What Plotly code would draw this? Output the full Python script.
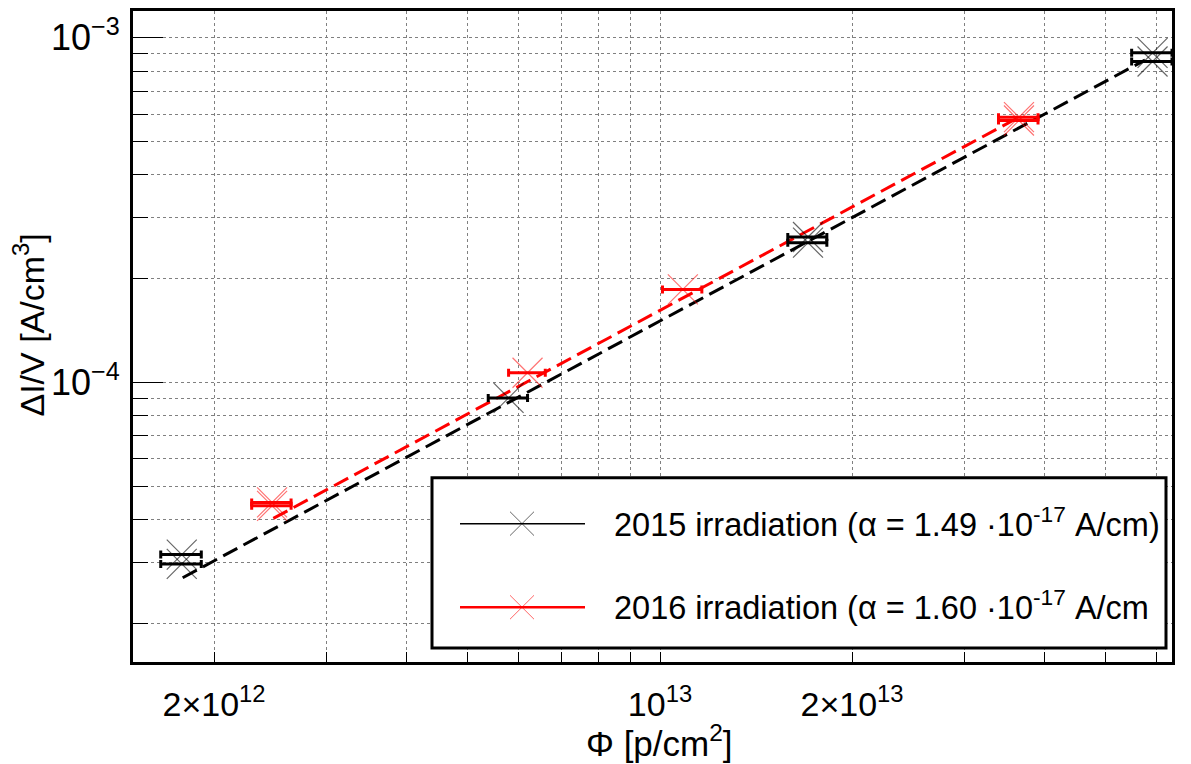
import plotly.graph_objects as go

# ---------------- data ----------------
# 2015 irradiation: two measurement sets
x15_a = [1.78e12, 5.79e12, 1.706e13, 5.916e13]
y15_a = [3.162e-5, 9.01e-5, 2.642e-4, 9.05e-4]
ex15_a = [0.13e12, 0.41e12, 0.12e13, 0.43e13]
x15_b = [1.78e12, 1.706e13, 5.916e13]
y15_b = [2.97e-5, 2.543e-4, 8.54e-4]
ex15_b = [0.13e12, 0.12e13, 0.43e13]

# 2016 irradiation: two measurement sets
x16_a = [2.466e12, 6.20e12, 1.086e13, 3.653e13]
y16_a = [4.48e-5, 1.066e-4, 1.861e-4, 5.885e-4]
ex16_a = [0.175e12, 0.41e12, 0.077e13, 0.26e13]
x16_b = [2.466e12, 3.653e13]
y16_b = [4.38e-5, 5.754e-4]
ex16_b = [0.175e12, 0.26e13]

# linear fits (end points)
fit15_x = [1.786e12, 5.757e13]
fit15_y = [2.708e-5, 8.62e-4]
fit16_x = [2.477e12, 3.653e13]
fit16_y = [4.026e-5, 5.885e-4]

x_major = [2e12, 1e13, 2e13]
x_major_text = ["2×10<sup>12</sup>", "10<sup>13</sup>", "2×10<sup>13</sup>"]
x_minor = [3e12, 4e12, 5e12, 6e12, 7e12, 8e12, 9e12, 3e13, 4e13, 5e13, 6e13]
y_major = [1e-4, 1e-3]
y_major_text = ["10<sup>−4</sup>", "10<sup>−3</sup>"]
y_minor = [2e-5, 3e-5, 4e-5, 5e-5, 6e-5, 7e-5, 8e-5, 9e-5,
           2e-4, 3e-4, 4e-4, 5e-4, 6e-4, 7e-4, 8e-4, 9e-4]

legend_labels = ["2015 irradiation (α = 1.49 ·10<sup>-17</sup> A/cm)",
                 "2016 irradiation (α = 1.60 ·10<sup>-17</sup> A/cm"]

FONT = "Liberation Sans, Arial, sans-serif"

# ---------------- figure ----------------
W, H = 1191, 764
L, R, T, B = 133, 1172, 8, 662

fig = go.Figure()

# fit lines
fig.add_trace(go.Scatter(x=fit15_x, y=fit15_y, mode="lines",
                         line=dict(color="black", width=3, dash="16px,7px"),
                         showlegend=False, hoverinfo="skip"))
fig.add_trace(go.Scatter(x=fit16_x, y=fit16_y, mode="lines",
                         line=dict(color="red", width=3, dash="16px,7px"),
                         showlegend=False, hoverinfo="skip"))

def pts(x, y, ex, color, mcolor):
    fig.add_trace(go.Scatter(
        x=x, y=y, mode="markers",
        marker=dict(symbol="x-thin", size=30, color=mcolor,
                    line=dict(color=mcolor, width=1.2)),
        error_x=dict(type="data", array=ex, color=color, thickness=3, width=4),
        showlegend=False))

pts(x15_a, y15_a, ex15_a, "black", "rgba(0,0,0,0.6)")
pts(x15_b, y15_b, ex15_b, "black", "rgba(0,0,0,0.6)")
pts(x16_a, y16_a, ex16_a, "red", "rgba(255,0,0,0.55)")
pts(x16_b, y16_b, ex16_b, "red", "rgba(255,0,0,0.55)")

grid = dict(showgrid=True, gridcolor="#808080", gridwidth=1, griddash="dot")

fig.update_xaxes(type="log", range=[12.174, 13.8025],
                 tickmode="array", tickvals=x_major, ticktext=x_major_text,
                 ticks="inside", ticklen=10, tickwidth=1, tickcolor="black",
                 ticklabelstandoff=10,
                 showline=True, linecolor="black", linewidth=3, mirror=True,
                 tickfont=dict(family=FONT, size=34, color="black"),
                 minor=dict(tickmode="array", tickvals=x_minor, ticks="inside",
                            ticklen=10, tickwidth=1, tickcolor="black", **grid),
                 zeroline=False, **grid)
fig.update_yaxes(type="log", range=[-4.812, -2.922],
                 tickmode="array", tickvals=y_major, ticktext=y_major_text,
                 ticks="inside", ticklen=30, tickwidth=1, tickcolor="black",
                 ticklabelstandoff=3,
                 showline=True, linecolor="black", linewidth=3, mirror=True,
                 tickfont=dict(family=FONT, size=36, color="black"),
                 minor=dict(tickmode="array", tickvals=y_minor, ticks="inside",
                            ticklen=15, tickwidth=1, tickcolor="black", **grid),
                 zeroline=False, **grid)

def px(xp):
    return (xp - L) / (R - L)

def py(yp):
    return (B - yp) / (B - T)

shapes = []
annotations = []
# legend box
shapes.append(dict(type="rect", xref="paper", yref="paper",
                   x0=px(432), x1=px(1166), y0=py(648), y1=py(477),
                   line=dict(color="black", width=3), fillcolor="white",
                   layer="above"))
leg = [(523, "black", "rgba(0,0,0,0.6)", 1.5), (607, "red", "rgba(255,0,0,0.6)", 2.5)]
for (yc, col, mcol, lw), lab in zip(leg, legend_labels):
    shapes.append(dict(type="line", xref="paper", yref="paper",
                       x0=px(460), x1=px(585), y0=py(yc), y1=py(yc),
                       line=dict(color=col, width=lw), layer="above"))
    for s in (1, -1):
        shapes.append(dict(type="line", xref="paper", yref="paper",
                           x0=px(522 - 12), x1=px(522 + 12),
                           y0=py(yc + 12 * s), y1=py(yc - 12 * s),
                           line=dict(color=mcol, width=1), layer="above"))
    annotations.append(dict(xref="paper", yref="paper", x=px(612), y=py(yc - 2),
                            xanchor="left", yanchor="middle", showarrow=False,
                            text=lab, font=dict(family=FONT, size=32.5, color="black")))

# axis titles
annotations.append(dict(xref="paper", yref="paper", x=px(659), y=py(741),
                        xanchor="center", yanchor="middle", showarrow=False,
                        text="Φ [p/cm<sup>2</sup>]",
                        font=dict(family=FONT, size=35, color="black")))
annotations.append(dict(xref="paper", yref="paper", x=px(29), y=py(324),
                        xanchor="center", yanchor="middle", showarrow=False,
                        textangle=-90, text="ΔI/V [A/cm<sup>3</sup>]",
                        font=dict(family=FONT, size=34, color="black")))

fig.update_layout(width=W, height=H,
                  margin=dict(l=L, r=W - R, t=T, b=H - B, pad=0),
                  paper_bgcolor="white", plot_bgcolor="white",
                  showlegend=False, shapes=shapes, annotations=annotations,
                  font=dict(family=FONT, color="black"))

fig.write_html("out.html")
